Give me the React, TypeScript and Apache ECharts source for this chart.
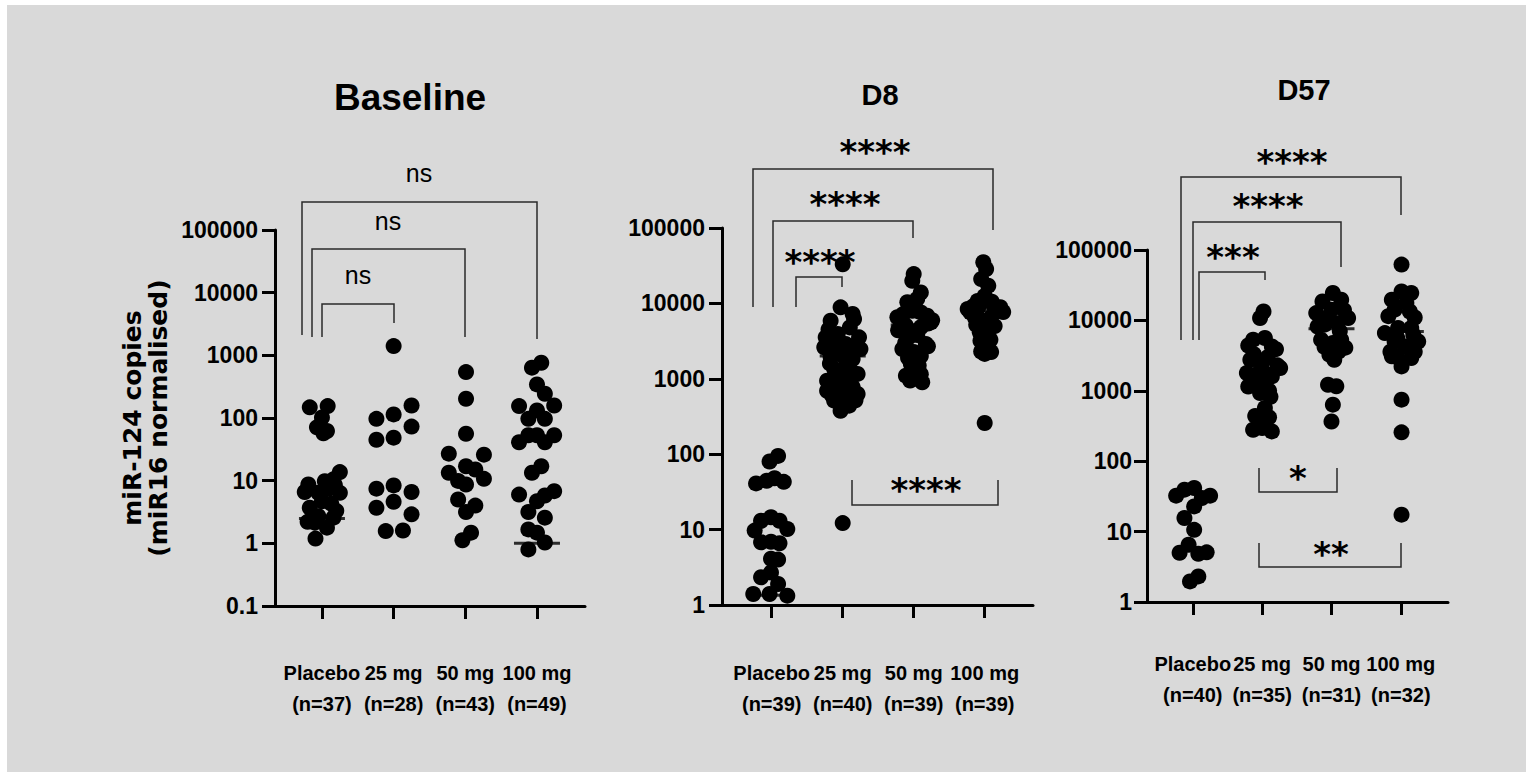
import React, { useEffect, useRef } from "react";
import * as echarts from "echarts";

// ---------------- data ----------------
const groupNames = ["Placebo", "25 mg", "50 mg", "100 mg"];
const panelTitles = ["Baseline", "D8", "D57"];
const nBaseline = [37, 28, 43, 49];
const nD8 = [39, 40, 39, 39];
const nD57 = [40, 35, 31, 32];
const yAxisTitle = ["miR-124 copies", "(miR16 normalised)"];

// each point: [horizontal offset inside its group (swarm), value]
const baselinePlacebo = [
  [-0.17, 148], [0.08, 155], [0.0, 102], [-0.07, 71], [0.07, 62], [0.02, 57],
  [0.25, 13.7], [0.16, 10.5], [-0.19, 8.7], [-0.24, 6.6], [-0.05, 6.4], [0.09, 7.4],
  [0.25, 6.4], [0.0, 4.7], [0.13, 4.3], [-0.17, 3.7], [-0.05, 2.7], [0.16, 2.57],
  [-0.1, 2.14], [0.07, 1.78], [-0.09, 1.19], [0.04, 9.8], [0.2, 3.3], [-0.2, 2.2],
  [0.18, 8.5],
];
const baseline25 = [
  [0, 1403], [-0.24, 97], [0, 114], [0.25, 158], [0.25, 73], [-0.24, 45], [0, 48.5],
  [-0.24, 7.45], [0, 8.4], [0.25, 6.6], [-0.24, 3.7], [0, 4.6], [0.25, 2.9],
  [-0.11, 1.57], [0.13, 1.6],
];
const baseline50 = [
  [0.01, 540], [0.01, 203], [0.01, 56], [-0.23, 27], [0.26, 26], [-0.23, 13.4],
  [0.01, 17], [0.14, 15.1], [0.26, 10.7], [-0.1, 9.9], [0.01, 8.7], [-0.1, 5.0],
  [0.14, 4.0], [0.01, 3.16], [0.08, 1.48], [-0.04, 1.12],
];
const baseline100 = [
  [0.06, 760], [-0.07, 635], [0, 344], [0.11, 244], [-0.25, 155], [0.24, 158],
  [-0.12, 97], [0, 132], [0.11, 97], [-0.25, 41], [-0.12, 53], [0, 53], [0.11, 41],
  [0.24, 53], [0.06, 17], [-0.07, 13.4], [-0.25, 6.0], [0, 4.7], [0.11, 5.8],
  [0.24, 6.8], [-0.12, 3.16], [0.11, 2.57], [-0.12, 1.67], [0, 1.48], [0.11, 1.03],
  [-0.12, 0.8],
];
const baselineMedians = [2.48, null, null, 1.0];

const d8Placebo = [
  [0.09, 95], [-0.03, 80], [-0.22, 41], [-0.07, 44.5], [0.04, 48], [0.17, 43],
  [-0.24, 9.7], [-0.15, 13.1], [-0.01, 14.6], [0.11, 13.1], [0.22, 10.2],
  [-0.15, 6.8], [-0.01, 6.9], [0.11, 6.6], [-0.01, 4.1], [0.09, 4.0], [-0.15, 2.33],
  [-0.01, 2.7], [0.09, 1.9], [-0.26, 1.4], [-0.03, 1.4], [0.22, 1.33],
];
const d825 = [
  [0, 33000], [0, 12.2], [-0.03, 8870], [0.14, 7230], [-0.17, 5890], [0.16, 6210],
  [-0.24, 3550], [-0.07, 3930], [0.23, 3550], [-0.26, 2620], [-0.12, 2750],
  [0.04, 2900], [0.25, 2480], [-0.17, 1930], [0, 2020], [0.14, 1830], [-0.12, 1350],
  [0.04, 1420], [0.21, 1160], [-0.22, 944], [-0.05, 944], [0.09, 994], [-0.22, 695],
  [-0.05, 695], [0.21, 628], [-0.12, 513], [0.04, 513], [-0.03, 377], [0.09, 440],
  [-0.2, 4500], [0.1, 4800], [0.2, 2900], [-0.05, 2300], [0.1, 2400], [-0.18, 1600],
  [0.12, 1250], [0.02, 1100], [-0.1, 820], [0.14, 780], [0.02, 620], [-0.15, 600],
  [0.18, 520],
];
const d850 = [
  [0, 24500], [-0.02, 19900], [0.1, 14000], [-0.09, 10350], [-0.23, 6550],
  [-0.02, 8000], [0.19, 6870], [0.26, 6000], [-0.11, 5060], [0.1, 4820],
  [-0.07, 3550], [0.17, 2900], [-0.16, 2480], [0, 2270], [-0.04, 1570], [0.07, 1500],
  [-0.11, 1100], [0.12, 898], [-0.02, 1220], [-0.22, 4400], [0.24, 5600], [0.2, 2700],
  [0.05, 11500], [-0.15, 7200], [0.1, 7600], [0.2, 5400], [-0.05, 4300], [0.05, 3800],
  [-0.12, 3000], [0.1, 2000], [-0.08, 1900], [0.02, 1300], [0.1, 1150], [-0.05, 950],
];
const d8100 = [
  [-0.02, 35100], [0.02, 28600], [-0.05, 21000], [0.05, 17200], [0, 12600],
  [-0.24, 8430], [-0.09, 8870], [0.19, 8000], [0.26, 7700], [-0.14, 6550],
  [0.09, 6550], [-0.02, 5900], [-0.07, 4140], [0.05, 3770], [-0.02, 2750],
  [0, 2140], [0.09, 2270], [0, 259], [-0.2, 7600], [0.22, 8900],
  [0.1, 10500], [-0.1, 10800], [0.14, 5000], [-0.12, 5200], [0.02, 4600], [0.08, 3300],
  [-0.06, 3200], [-0.05, 2300], [0.05, 2500], [0.12, 9500], [-0.16, 9200],
];
const d8Medians = [1.35, 2000, 5170, 8000];

const d57Placebo = [
  [-0.24, 32.4], [-0.12, 39.4], [0.02, 41.6], [0.25, 32.4], [0.13, 30], [0.02, 22.8],
  [-0.12, 15.6], [0.02, 10.6], [-0.19, 5.0], [-0.06, 6.5], [0.08, 4.85], [0.2, 5.07],
  [-0.04, 1.96], [0.08, 2.31],
];
const d5725 = [
  [0.02, 13400], [-0.03, 10800], [-0.13, 5320], [0.04, 5620], [0.14, 4270],
  [-0.17, 2760], [0, 2480], [-0.22, 1790], [-0.03, 1890], [0.26, 2110], [0.14, 1600],
  [-0.1, 1220], [0.04, 1220], [-0.03, 931], [0.04, 570], [0.02, 349], [-0.13, 280],
  [0.14, 265], [0, 295], [-0.2, 4400], [0.2, 3900], [0.22, 2300], [-0.08, 1500],
  [0.1, 1000], [-0.12, 3300], [0.08, 3000], [-0.03, 1400], [0.08, 1700], [-0.2, 1150],
  [0.12, 820], [-0.1, 440], [0.1, 420],
];
const d5750 = [
  [0.02, 24500], [-0.13, 18600], [0.14, 19700], [-0.22, 12700], [0, 14200],
  [0.24, 10800], [-0.1, 8700], [0.09, 9100], [-0.15, 5320], [0.02, 4780],
  [0.14, 5320], [-0.03, 3260], [0.04, 2760], [-0.05, 1220], [0.07, 1160],
  [0.02, 635], [0, 367], [0.18, 14000], [-0.05, 11000], [0.12, 7000], [-0.2, 8200],
  [0.2, 4100], [-0.1, 4200], [0.1, 3600],
];
const d57100 = [
  [0.01, 62000], [0.01, 25800], [0.15, 24500], [-0.13, 19700], [0.08, 17700],
  [-0.09, 14200], [0.13, 13400], [-0.23, 6610], [-0.04, 7800], [0.15, 7800],
  [0.25, 5020], [-0.09, 5020], [0.06, 4270], [-0.13, 3090], [0.15, 2920],
  [0.01, 2220], [0.01, 748], [0.01, 257], [0.01, 17.4], [-0.18, 11500], [0.2, 11000],
  [-0.15, 3600], [0.2, 3600], [-0.05, 3000], [0.18, 6200], [-0.05, 5600],
];
const d57Medians = [null, 1790, 7620, 6980];

// significance brackets (annotation, page pixels)
const baselineBrackets = [
  { pts: [[302, 335], [302, 202], [537, 202], [537, 339]], label: "ns", lx: 419, ly: 175 },
  { pts: [[312, 337], [312, 249], [465, 249], [465, 337]], label: "ns", lx: 388, ly: 223 },
  { pts: [[322, 337], [322, 304], [394, 304], [394, 323]], label: "ns", lx: 358, ly: 277 },
];
const d8Brackets = [
  { pts: [[753, 307], [753, 169], [993, 169], [993, 230]], label: "****", lx: 875, ly: 145 },
  { pts: [[773, 307], [773, 221], [913, 221], [913, 238]], label: "****", lx: 845, ly: 197 },
  { pts: [[796, 307], [796, 277], [842, 277], [842, 287]], label: "****", lx: 820, ly: 255 },
  { pts: [[852, 480], [852, 505], [998, 505], [998, 480]], label: "****", lx: 926, ly: 483 },
];
const d57Brackets = [
  { pts: [[1181, 340], [1181, 177], [1401, 177], [1401, 215]], label: "****", lx: 1292, ly: 155 },
  { pts: [[1193, 340], [1193, 222], [1341, 222], [1341, 267]], label: "****", lx: 1268, ly: 199 },
  { pts: [[1199, 340], [1199, 272], [1265, 272], [1265, 280]], label: "***", lx: 1233, ly: 250 },
  { pts: [[1259, 468], [1259, 492], [1337, 492], [1337, 468]], label: "*", lx: 1298, ly: 471 },
  { pts: [[1259, 543], [1259, 567], [1401, 567], [1401, 543]], label: "**", lx: 1331, ly: 547 },
];

// ---------------- layout ----------------
const FONT = "'Liberation Sans', Arial, Helvetica, sans-serif";
const OX = 7;
const OY = 5;
const px = (x: number) => x - OX;
const py = (y: number) => y - OY;

const panels = [
  {
    title: panelTitles[0], n: nBaseline, groups: [baselinePlacebo, baseline25, baseline50, baseline100],
    medians: baselineMedians, brackets: baselineBrackets, yMin: 0.1,
    grid: { l: 275, t: 230, r: 585, b: 606 }, xMin: -0.655, xMax: 3.67,
    xLabelMargin: 51, yLabelMargin: 17, titleX: 410, titleY: 97, titleSize: 37,
  },
  {
    title: panelTitles[1], n: nD8, groups: [d8Placebo, d825, d850, d8100],
    medians: d8Medians, brackets: d8Brackets, yMin: 1,
    grid: { l: 722, t: 228, r: 1033, b: 605 }, xMin: -0.7, xMax: 3.68,
    xLabelMargin: 52, yLabelMargin: 17, titleX: 880, titleY: 95, titleSize: 29,
  },
  {
    title: panelTitles[2], n: nD57, groups: [d57Placebo, d5725, d5750, d57100],
    medians: d57Medians, brackets: d57Brackets, yMin: 1,
    grid: { l: 1147, t: 250, r: 1448, b: 602 }, xMin: -0.66, xMax: 3.68,
    xLabelMargin: 46, yLabelMargin: 15, titleX: 1304, titleY: 90, titleSize: 29,
  },
];

function buildOption() {
  const grid: any[] = [];
  const xAxis: any[] = [];
  const yAxis: any[] = [];
  const series: any[] = [];
  const graphic: any[] = [];
  const axisLineStyle = { color: "#000", width: 3 };

  panels.forEach((p, i) => {
    grid.push({
      left: px(p.grid.l), top: py(p.grid.t),
      width: p.grid.r - p.grid.l, height: p.grid.b - p.grid.t,
    });
    const labels = groupNames.map((g, k) => `${g}\n(n=${p.n[k]})`);
    xAxis.push({
      gridIndex: i, type: "value", min: p.xMin, max: p.xMax,
      axisLine: { show: true, onZero: false, lineStyle: axisLineStyle },
      axisTick: { show: true, customValues: [0, 1, 2, 3], length: 13, lineStyle: axisLineStyle },
      axisLabel: {
        customValues: [0, 1, 2, 3],
        formatter: (v: number) => labels[Math.round(v)],
        margin: p.xLabelMargin, fontSize: 20, fontWeight: "bold", color: "#000",
        lineHeight: 31, fontFamily: FONT, align: "center",
      },
      splitLine: { show: false },
    });
    yAxis.push({
      gridIndex: i, type: "log", logBase: 10, min: p.yMin, max: 100000,
      axisLine: { show: true, onZero: false, lineStyle: axisLineStyle },
      axisTick: { show: true, length: 13, lineStyle: axisLineStyle },
      minorTick: { show: false },
      axisLabel: {
        formatter: (v: number) => (v < 1 ? v.toFixed(1) : String(Math.round(v))),
        margin: p.yLabelMargin, fontSize: 23, fontWeight: "bold", color: "#000", fontFamily: FONT,
      },
      splitLine: { show: false },
    });
    const pts: number[][] = [];
    p.groups.forEach((g, gi) => g.forEach(([o, v]) => pts.push([gi + o, v])));
    series.push({
      type: "scatter", xAxisIndex: i, yAxisIndex: i, data: pts, symbol: "circle",
      symbolSize: 16, itemStyle: { color: "#000", opacity: 1 }, silent: true, z: 2,
    });
    const med: number[][] = [];
    p.medians.forEach((m, gi) => { if (m != null) med.push([gi, m as number]); });
    series.push({
      type: "scatter", xAxisIndex: i, yAxisIndex: i, data: med, symbol: "rect",
      symbolSize: [46, 3], itemStyle: { color: "#000" }, silent: true, z: 3,
    });

    graphic.push({
      type: "text", x: px(p.titleX), y: py(p.titleY),
      style: {
        text: p.title, fontSize: p.titleSize, fontWeight: "bold", fontFamily: FONT,
        fill: "#000", align: "center", verticalAlign: "middle",
      },
    });
    p.brackets.forEach((b) => {
      graphic.push({
        type: "polyline",
        shape: { points: b.pts.map(([x, y]) => [px(x), py(y)]) },
        style: { stroke: "#2a2a2a", lineWidth: 1.5, fill: null },
      });
      const isStar = b.label.indexOf("*") >= 0;
      graphic.push({
        type: "text", x: px(b.lx), y: py(b.ly) + (isStar ? 7 : -2),
        style: {
          text: b.label,
          fontSize: isStar ? 34 : 25,
          fontWeight: isStar ? "bold" : "normal",
          fontFamily: isStar ? "'DejaVu Sans', sans-serif" : FONT,
          fill: "#000", align: "center", verticalAlign: "middle",
        },
      });
    });
  });

  // y-axis title (left panel)
  [132, 158].forEach((cx, k) => {
    graphic.push({
      type: "text", x: px(cx), y: py(418), rotation: Math.PI / 2,
      style: {
        text: yAxisTitle[k], fontSize: 25, fontWeight: "bold",
        fontFamily: "'DejaVu Sans', sans-serif", fill: "#000",
        align: "center", verticalAlign: "middle",
      },
    });
  });

  return {
    animation: false,
    backgroundColor: "#d9d9d9",
    grid, xAxis, yAxis, series, graphic,
  };
}

export default function App() {
  const ref = useRef<HTMLDivElement>(null);
  useEffect(() => {
    if (!ref.current) return;
    const chart = echarts.init(ref.current, undefined, { renderer: "svg" });
    chart.setOption(buildOption() as any);
    return () => chart.dispose();
  }, []);
  return (
    <div style={{ position: "fixed", left: 0, top: 0, width: 1529, height: 774, background: "#fff" }}>
      <div
        ref={ref}
        style={{ position: "absolute", left: OX, top: OY, width: 1519, height: 767 }}
      />
    </div>
  );
}
